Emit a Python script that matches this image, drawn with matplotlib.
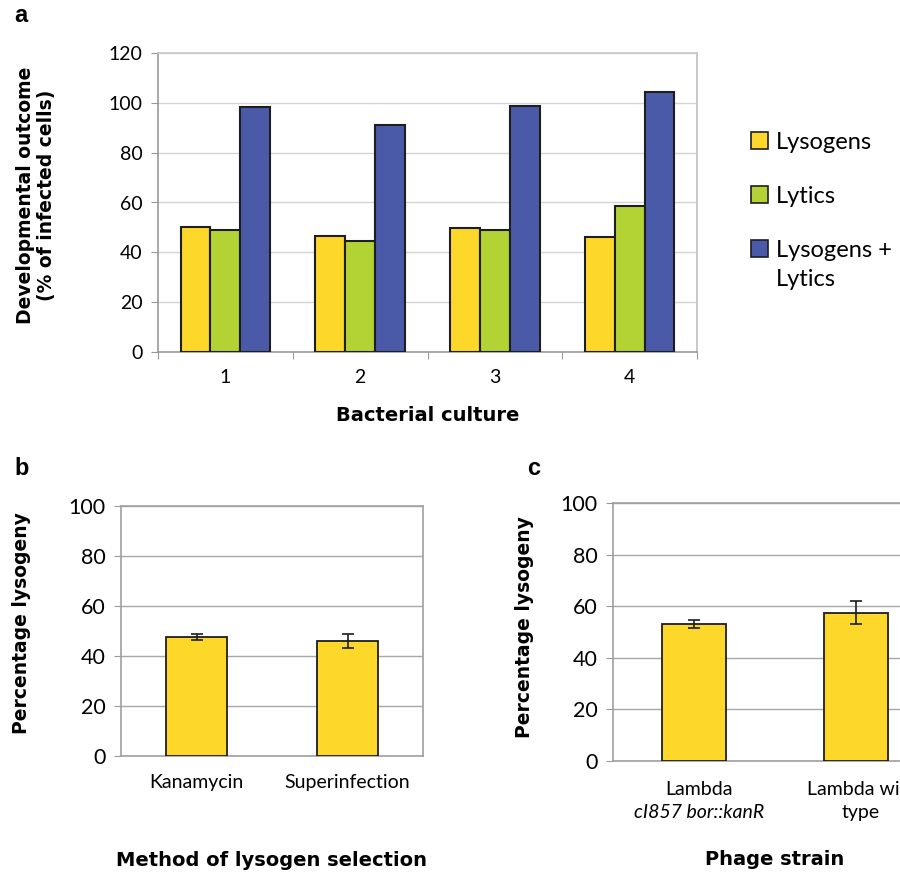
import numpy as np
import matplotlib as mpl

mpl.use("Agg")
import matplotlib.pyplot as plt
from matplotlib.patches import Patch
from matplotlib.transforms import blended_transform_factory

plt.rcParams["font.family"] = ["Lato", "DejaVu Sans"]

# panel a data
cultures = ["1", "2", "3", "4"]
lysogens = [50.3, 46.6, 49.9, 46.0]
lytics = [49.0, 44.6, 49.0, 58.5]
total = [98.5, 91.1, 98.9, 104.5]
series_names = ["Lysogens", "Lytics", "Lysogens +\nLytics"]

# panel b data
methods = ["Kanamycin", "Superinfection"]
method_pct = [47.7, 46.1]
method_err = [1.3, 2.8]

# panel c data
strains_top = ["Lambda", "Lambda wild"]
strains_bottom = ["cI857 bor::kanR", "type"]
strain_pct = [53.1, 57.5]
strain_err = [1.5, 4.5]

yellow = "#fdd82b"
green = "#b3d335"
blue = "#4a5aa8"
edge = "#1e1e1e"
grid_a = "#d4d4d4"
grid_bc = "#a8a8a8"
bold_font = dict(family=["DejaVu Sans"], fontweight="bold")

fig = plt.figure(figsize=(9, 8.72), dpi=100)

# ---------------- panel a ----------------
ax = fig.add_axes([158 / 900, 1 - 352 / 872, 539 / 900, 299 / 872])
x = np.arange(len(cultures))
w = 0.222
for k, (vals, col) in enumerate(zip([lysogens, lytics, total], [yellow, green, blue])):
    ax.bar(x + (k - 1) * w, vals, width=w, color=col, edgecolor=edge,
           linewidth=1.5, zorder=3, label=series_names[k])
ax.set_xlim(-0.5, len(cultures) - 0.5)
ax.set_ylim(0, 120)
ax.set_yticks(np.arange(0, 121, 20))
ax.yaxis.grid(True, color=grid_a, linewidth=1.0, zorder=0)
ax.set_xticks(np.arange(-0.5, len(cultures), 1.0))
ax.set_xticklabels([])
ax.set_xticks(x, minor=True)
ax.set_xticklabels(cultures, minor=True, fontsize=14)
ax.tick_params(axis="x", which="minor", length=0, pad=12)
ax.tick_params(axis="x", which="major", length=5, color="#999999")
ax.tick_params(axis="y", length=5, color="#999999", labelsize=14, pad=6)
for s in ax.spines.values():
    s.set_color("#999999")
    s.set_linewidth(1.2)
ax.spines["top"].set_color("#c8c8c8")
ax.spines["right"].set_color("#c0c0c0")
ax.set_xlabel("Bacterial culture", fontsize=14, **bold_font)
ax.xaxis.set_label_coords(0.5, -0.18)
ax.set_ylabel("Developmental outcome\n(% of infected cells)", fontsize=13.5,
              linespacing=1.1, **bold_font)
ax.yaxis.set_label_coords(-0.19, 0.525)

handles = [Patch(facecolor=c, edgecolor=edge, linewidth=1.2) for c in [yellow, green, blue]]
leg = fig.legend(handles, series_names, loc="upper left",
                 bbox_to_anchor=(739 / 900, 1 - 120 / 872), frameon=False,
                 fontsize=17, borderpad=0, handlelength=0.72, handleheight=0.72,
                 handletextpad=0.35, labelspacing=1.4)
for t in leg.get_texts():
    t.set_linespacing(1.5)
for col in leg._legend_handle_box.get_children():
    for row in col.get_children():
        row.align = "top"

# ---------------- panel b ----------------
bx = fig.add_axes([121 / 900, 1 - 756 / 872, 302 / 900, 250 / 872])
xb = np.arange(len(methods))
bx.bar(xb, method_pct, width=0.4, color=yellow, edgecolor=edge, linewidth=1.3, zorder=3)
bx.errorbar(xb, method_pct, yerr=method_err, fmt="none", ecolor=edge,
            elinewidth=1.2, capsize=4, capthick=1.2, zorder=4)
bx.set_xlim(-0.5, len(methods) - 0.5)
bx.set_ylim(0, 100)
bx.set_yticks(np.arange(0, 101, 20))
bx.yaxis.grid(True, color=grid_bc, linewidth=1.0, zorder=0)
bx.set_xticks(xb)
bx.set_xticklabels(methods, fontsize=14)
bx.tick_params(axis="x", length=0, pad=13)
bx.tick_params(axis="y", length=5, color="#999999", labelsize=15.5, pad=6)
for s in bx.spines.values():
    s.set_color("#a0a0a0")
    s.set_linewidth(1.2)
bx.set_xlabel("Method of lysogen selection", fontsize=14, **bold_font)
bx.xaxis.set_label_coords(0.5, -0.38)
bx.set_ylabel("Percentage lysogeny", fontsize=13.5, **bold_font)
bx.yaxis.set_label_coords(-0.298, 0.53)

# ---------------- panel c ----------------
cx = fig.add_axes([613 / 900, 1 - 761 / 872, 324 / 900, 258 / 872])
xc = np.arange(len(strain_pct))
cx.bar(xc, strain_pct, width=0.4, color=yellow, edgecolor=edge, linewidth=1.3, zorder=3)
cx.errorbar(xc, strain_pct, yerr=strain_err, fmt="none", ecolor=edge,
            elinewidth=1.2, capsize=4, capthick=1.2, zorder=4)
cx.set_xlim(-0.5, len(strain_pct) - 0.5)
cx.set_ylim(0, 100)
cx.set_yticks(np.arange(0, 101, 20))
cx.yaxis.grid(True, color=grid_bc, linewidth=1.0, zorder=0)
cx.set_xticks(xc)
cx.set_xticklabels([])
cx.tick_params(axis="x", length=0)
cx.tick_params(axis="y", length=5, color="#999999", labelsize=15.5, pad=6)
for s in cx.spines.values():
    s.set_color("#a0a0a0")
    s.set_linewidth(1.2)
tr = blended_transform_factory(cx.transData, cx.transAxes)
for i in range(len(strain_pct)):
    cx.text(xc[i] + 0.03, -0.112, strains_top[i], transform=tr, ha="center",
            va="center", fontsize=14, clip_on=False)
    cx.text(xc[i] + 0.03, -0.198, strains_bottom[i], transform=tr, ha="center",
            va="center", fontsize=14, clip_on=False,
            style="italic" if i == 0 else "normal")
cx.set_xlabel("Phage strain", fontsize=14, **bold_font)
cx.xaxis.set_label_coords(0.5, -0.345)
cx.set_ylabel("Percentage lysogeny", fontsize=13.5, **bold_font)
cx.yaxis.set_label_coords(-0.244, 0.52)

# panel letters
for letter, px, py in [("a", 14, 16), ("b", 14, 468), ("c", 527, 468)]:
    fig.text(px / 900, 1 - py / 872, letter, fontsize=17, fontweight="bold",
             family=["Liberation Sans", "DejaVu Sans"], va="center", ha="left")

fig.savefig("out.png", dpi=100)
